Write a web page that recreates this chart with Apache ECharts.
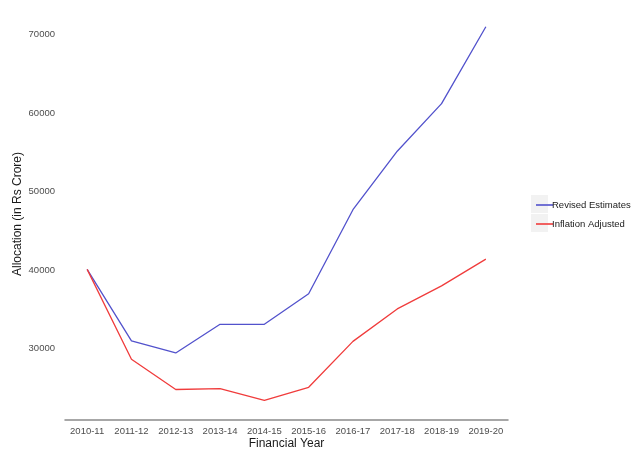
<!DOCTYPE html>
<html>
<head>
<meta charset="utf-8">
<script src="https://cdn.jsdelivr.net/npm/echarts@6/dist/echarts.min.js"></script>
<style>html,body{margin:0;padding:0;background:#fff}#c{width:640px;height:457px}</style>
</head>
<body>
<div id="c"></div>
<script>
var years = ['2010-11','2011-12','2012-13','2013-14','2014-15','2015-16','2016-17','2017-18','2018-19','2019-20'];
var revisedEstimates = [40100, 31000, 29450, 33100, 33100, 37000, 47700, 55150, 61200, 71000];
var inflationAdjusted = [40100, 28650, 24800, 24900, 23400, 25080, 30930, 35060, 38000, 41400];
var seriesNames = ['Revised Estimates', 'Inflation Adjusted'];

var chart = echarts.init(document.getElementById('c'), null, {renderer: 'canvas'});
var font = 'Liberation Sans, Arial, Helvetica, sans-serif';
chart.setOption({
  animation: false,
  backgroundColor: '#ffffff',
  grid: {left: 65, right: 132, top: 8, bottom: 37, outerBoundsMode: 'none', containLabel: false},
  graphic: [
    {type: 'rect', left: 531, top: 195, shape: {width: 17, height: 18}, style: {fill: '#f2f2f2'}, z: 0},
    {type: 'rect', left: 531, top: 214, shape: {width: 17, height: 18}, style: {fill: '#f2f2f2'}, z: 0}
  ],
  legend: {
    orient: 'vertical',
    left: 531,
    top: 194,
    icon: 'rect',
    itemWidth: 17,
    itemHeight: 1.6,
    itemGap: 7,
    data: seriesNames,
    textStyle: {fontFamily: font, fontSize: 9.5, color: '#1a1a1a', lineHeight: 12, padding: [0, 0, 0, -6]}
  },
  xAxis: {
    type: 'category',
    data: years,
    boundaryGap: true,
    name: 'Financial Year',
    nameLocation: 'middle',
    nameGap: 18,
    nameMoveOverlap: false,
    nameTextStyle: {fontFamily: font, fontSize: 12, color: '#1a1a1a'},
    axisLine: {show: true, lineStyle: {color: '#8a8a8a', width: 1.5}},
    axisTick: {show: false},
    axisLabel: {fontFamily: font, fontSize: 9.5, color: '#4d4d4d', margin: 6, interval: 0},
    splitLine: {show: false}
  },
  yAxis: {
    type: 'value',
    min: 20915,
    max: 73385,
    splitNumber: 5,
    name: 'Allocation (in Rs Crore)',
    nameLocation: 'middle',
    nameGap: 41,
    nameMoveOverlap: false,
    nameTextStyle: {fontFamily: font, fontSize: 12, color: '#1a1a1a'},
    axisLine: {show: false},
    axisTick: {show: false},
    axisLabel: {fontFamily: font, fontSize: 9.5, color: '#4d4d4d', margin: 10, showMinLabel: false, showMaxLabel: false,
      formatter: function (v) { return String(v); }},
    splitLine: {show: false}
  },
  series: [
    {
      name: seriesNames[0],
      type: 'line',
      data: revisedEstimates,
      symbol: 'none',
      lineStyle: {color: '#5252cc', width: 1.3},
      itemStyle: {color: '#5252cc'}
    },
    {
      name: seriesNames[1],
      type: 'line',
      data: inflationAdjusted,
      symbol: 'none',
      lineStyle: {color: '#f03c3c', width: 1.3},
      itemStyle: {color: '#f03c3c'}
    }
  ]
});
</script>
</body>
</html>
